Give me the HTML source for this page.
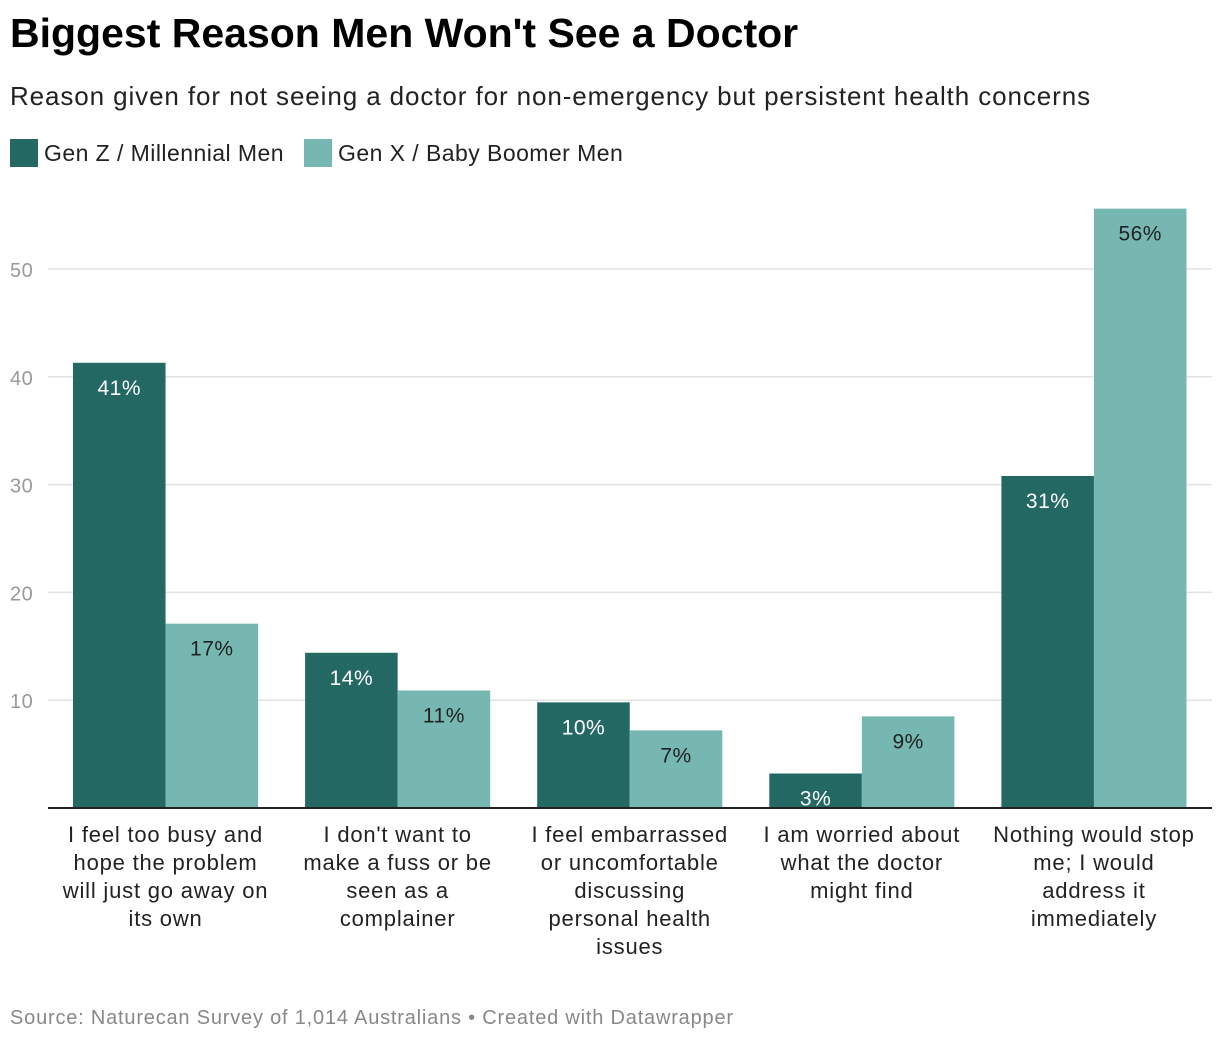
<!DOCTYPE html>
<html><head><meta charset="utf-8"><style>
body{margin:0;width:1220px;height:1042px;background:#fff;font-family:"Liberation Sans",sans-serif;overflow:hidden;position:relative}
.t{position:absolute;left:10px;top:10px;font-size:41px;font-weight:bold;color:#000;letter-spacing:0px}
.s{position:absolute;left:10px;top:81px;font-size:26px;color:#222;letter-spacing:0.9px}
.lg{position:absolute;top:139px;font-size:23px;color:#222;display:flex;align-items:center;letter-spacing:0.45px}
.lg span.sw{width:28px;height:28px;display:inline-block;margin-right:6px}
.src{position:absolute;left:10px;top:1007px;font-size:20px;color:#888;letter-spacing:0.8px}
</style></head><body>
<div class="t">Biggest Reason Men Won't See a Doctor</div>
<div class="s">Reason given for not seeing a doctor for non-emergency but persistent health concerns</div>
<div class="lg" style="left:10px"><span class="sw" style="background:#246864"></span>Gen Z / Millennial Men</div>
<div class="lg" style="left:304px"><span class="sw" style="background:#76b8b1"></span>Gen X / Baby Boomer Men</div>
<svg id="c" width="1220" height="1042" style="position:absolute;left:0;top:0"></svg>
<div class="src">Source: Naturecan Survey of 1,014 Australians • Created with Datawrapper</div>
<script>
const categories=[["I feel too busy and","hope the problem","will just go away on","its own"],["I don't want to","make a fuss or be","seen as a","complainer"],["I feel embarrassed","or uncomfortable","discussing","personal health","issues"],["I am worried about","what the doctor","might find"],["Nothing would stop","me; I would","address it","immediately"]];
const seriesA=[41.3,14.4,9.8,3.2,30.8];
const seriesB=[17.1,10.9,7.2,8.5,55.6];
const labelsA=["41%","14%","10%","3%","31%"];
const labelsB=["17%","11%","7%","9%","56%"];
const ticks=[10,20,30,40,50];
const svg=document.getElementById('c');const NS='http://www.w3.org/2000/svg';
const y0=808,pxPer=10.78,xL=49.5,xR=1210,step=(xR-xL)/categories.length,pad=23.5,bw=(step-2*pad)/2;
const y=v=>y0-v*pxPer;
function mk(t,a,txt){const e=document.createElementNS(NS,t);for(const k in a)e.setAttribute(k,a[k]);if(txt!=null)e.textContent=txt;svg.appendChild(e);return e;}
ticks.forEach((t,i)=>{
 const l=mk('line',{x1:48,x2:1212,y1:y(t),y2:y(t),stroke:'#e2e2e2','stroke-width':1.5});
 
 const tx=mk('text',{x:10,y:y(t)+8,'font-size':20,fill:'#999','font-family':'Liberation Sans','letter-spacing':'0.5'},String(t));
 
});
categories.forEach((c,i)=>{
 const gx=xL+i*step+pad;
 [[seriesA,labelsA,'#246864','#fff'],[seriesB,labelsB,'#76b8b1','#222']].forEach((s,j)=>{
  const v=s[0][i],x=gx+j*bw;
  const r=mk('rect',{x:x,y:y(v),width:bw,height:y0-y(v),fill:s[2]});
  
  const t=mk('text',{x:x+bw/2,y:y(v)+32,'text-anchor':'middle','font-size':21,fill:s[3],'font-family':'Liberation Sans','letter-spacing':'0.5'},s[1][i]);
  
 });
 c.forEach((ln,k)=>{
  const t=mk('text',{x:gx+bw,y:842+k*28,'text-anchor':'middle','font-size':22,fill:'#222','font-family':'Liberation Sans','letter-spacing':'0.8'},ln);
  
 });
});
const b=mk('line',{x1:48,x2:1212,y1:y0,y2:y0,stroke:'#222','stroke-width':2});

</script>
</body></html>
